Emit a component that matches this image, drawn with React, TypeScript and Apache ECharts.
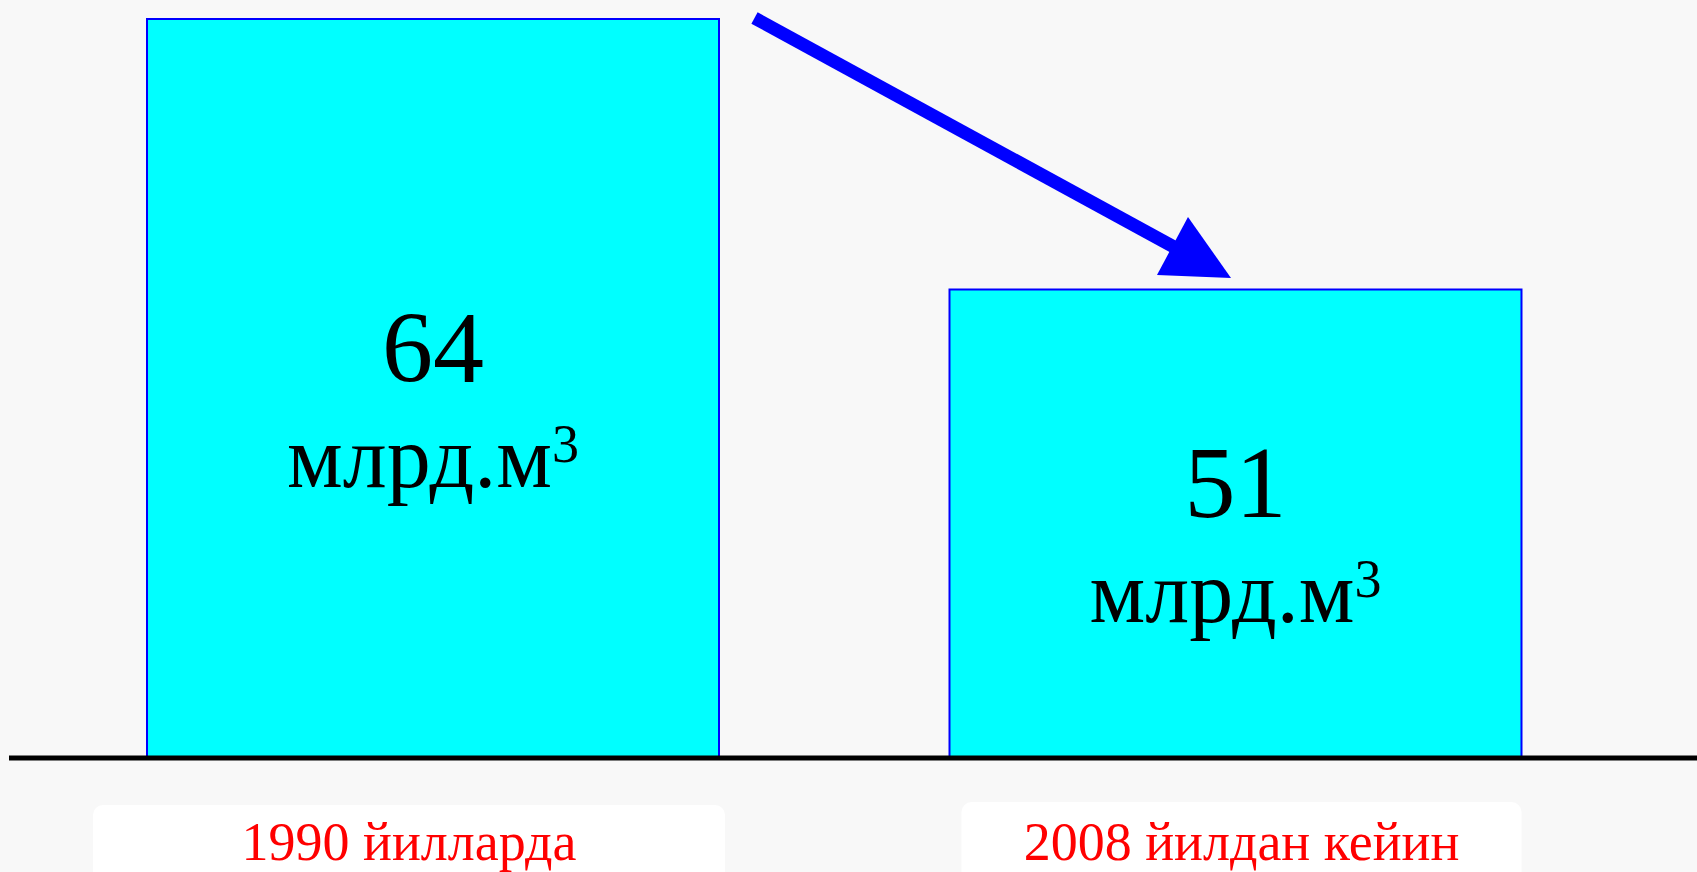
import React, { useEffect, useRef } from "react";
import * as echarts from "echarts";

const categories = ["1990 йилларда", "2008 йилдан кейин"];
const values = [64, 51];
const unitLabel = "млрд.м";
const unitPower = "3";
const yMin = 28.5;
const yMax = 64;

const SERIF = "'Liberation Serif', 'Times New Roman', serif";

export default function App() {
  const ref = useRef<HTMLDivElement>(null);
  useEffect(() => {
    if (!ref.current) return;
    const chart = echarts.init(ref.current, undefined, { renderer: "svg" });
    chart.setOption({
      animation: false,
      backgroundColor: "#f8f8f8",
      grid: {
        left: 31.75,
        right: 60.25,
        top: 18,
        bottom: 115,
        containLabel: false,
        outerBoundsMode: "none",
      },
      xAxis: {
        type: "category",
        data: categories,
        axisLine: { show: false },
        axisTick: { show: false },
        axisLabel: {
          margin: 55,
          interval: 0,
          hideOverlap: false,
          formatter: (v: string, i: number) =>
            i === 0 ? `{b0|${v}}{sp0|}` : `{sp1|}{b1|${v}}`,
          rich: {
            b0: {
              width: 632,
              fontSize: 54,
              lineHeight: 54,
              fontFamily: SERIF,
              color: "#ff0000",
              align: "center",
              backgroundColor: "#ffffff",
              borderRadius: [10, 10, 0, 0],
              padding: [10, 0, 4, 0],
            },
            b1: {
              width: 560,
              fontSize: 54,
              lineHeight: 51,
              fontFamily: SERIF,
              color: "#ff0000",
              align: "center",
              backgroundColor: "#ffffff",
              borderRadius: [10, 10, 0, 0],
              padding: [13, 0, 4, 0],
            },
            sp0: { width: 48, height: 10 },
            sp1: { width: 12, height: 10 },
          },
        },
      },
      yAxis: {
        type: "value",
        min: yMin,
        max: yMax,
        show: false,
        splitLine: { show: false },
      },
      series: [
        {
          type: "bar",
          data: values,
          barWidth: 574,
          itemStyle: {
            color: "#00ffff",
            borderColor: "#0000ff",
            borderWidth: 2,
          },
          label: {
            show: true,
            position: "inside",
            formatter: (p: any) =>
              `{n|${p.value}}\n{u|${unitLabel}}{s|${unitPower}}`,
            rich: {
              n: { fontSize: 102, lineHeight: 139, fontFamily: SERIF, color: "#000" },
              u: { fontSize: 88, lineHeight: 81, fontFamily: SERIF, color: "#000" },
              s: {
                fontSize: 54,
                lineHeight: 51,
                fontFamily: SERIF,
                color: "#000",
                verticalAlign: "top",
              },
            },
          },
        },
      ],
      graphic: [
        {
          type: "line",
          z: 100,
          shape: { x1: 9, y1: 758, x2: 1697, y2: 758 },
          style: { stroke: "#000000", lineWidth: 5 },
        },
        {
          type: "line",
          z: 100,
          shape: { x1: 754.5, y1: 18, x2: 1174, y2: 247 },
          style: { stroke: "#0000ff", lineWidth: 13, lineCap: "butt" },
        },
        {
          type: "polygon",
          z: 100,
          shape: {
            points: [
              [1188, 217],
              [1157, 275],
              [1231, 278],
            ],
          },
          style: { fill: "#0000ff" },
        },
      ],
    });
    return () => chart.dispose();
  }, []);
  return (
    <div
      ref={ref}
      style={{ position: "absolute", left: 0, top: 0, width: 1697, height: 872 }}
    />
  );
}
